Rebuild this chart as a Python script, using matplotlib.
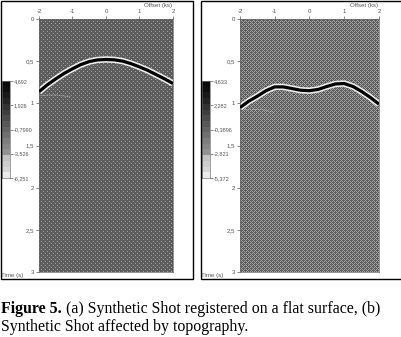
import numpy as np
import matplotlib
matplotlib.use("Agg")
import matplotlib.pyplot as plt
from matplotlib.patches import Rectangle

W, H = 402, 337
offset_ticks = [-2, -1, 0, 1, 2]
offset_labels = ["-2", "-1", "0", "1", "2"]
time_ticks = [0, 0.5, 1, 1.5, 2, 2.5, 3]
time_labels = ["0", "0,5", "1", "1,5", "2", "2,5", "3"]

offset_a = [-2, -1.75, -1.5, -1.25, -1, -0.75, -0.5, -0.25, 0, 0.25, 0.5, 0.75, 1, 1.25, 1.5, 1.75, 2]
time_a = [0.862, 0.78, 0.71, 0.645, 0.59, 0.54, 0.505, 0.485, 0.48, 0.484, 0.50, 0.53, 0.568, 0.61, 0.66, 0.71, 0.765]
offset_b = [-2, -1.75, -1.5, -1.25, -1, -0.75, -0.5, -0.25, 0, 0.25, 0.5, 0.75, 1, 1.25, 1.5, 1.75, 2]
time_b = [1.05, 0.975, 0.915, 0.85, 0.805, 0.805, 0.825, 0.845, 0.85, 0.835, 0.80, 0.77, 0.765, 0.80, 0.86, 0.93, 1.01]

cbar_a_labels = ["4,692", "1,926", "-0,7990", "-3,526", "-6,251"]
cbar_b_labels = ["4,633", "2,282", "-0,3896", "-2,821", "-5,372"]
cbar_levels = [10, 15, 25, 35, 50, 62, 75, 88, 100, 112, 125, 135, 145, 195, 205, 215, 235]
faint_a_x = [-1.95, -1.5, -1.05]
faint_a_t = [0.905, 0.90, 0.925]
faint_b_x = [-1.9, -1.4, -1.0]
faint_b_t = [1.08, 1.07, 1.11]

fig = plt.figure(figsize=(W / 100, H / 100), dpi=100, facecolor="white")
tick_font = dict(fontsize=4.4, color="#555555", family="Liberation Sans")
cbar_font = dict(fontsize=4.0, color="#555555", family="Liberation Sans")


def box(x0, y0, x1, y1):
    return [x0 / W, 1 - y1 / H, (x1 - x0) / W, (y1 - y0) / H]


def texture(h, w, kind):
    yy, xx = np.mgrid[0:h, 0:w]
    img = np.full((h, w), 92.0)
    if kind == "a":
        img[(yy % 4 == 0) & (xx % 4 == 0)] = 165
        img[(yy % 4 == 2) & (xx % 4 == 2)] = 165
    else:
        mesh = (xx + yy) % 2 == 0
        holes = ((xx % 4 == 1) & (yy % 4 == 3)) | ((xx % 4 == 3) & (yy % 4 == 1))
        img[mesh & ~holes] = 165
    return img


def panel(px, offs, times, kind, cb_labels, cb_px, fx, ft):
    x0, y0, x1, y1 = px
    ax = fig.add_axes(box(x0, y0, x1, y1))
    ax.imshow(texture(int(y1 - y0), int(x1 - x0), kind), cmap="gray", vmin=0, vmax=255,
              extent=(-2, 2, 3, 0), aspect="auto", interpolation="nearest", zorder=0)
    ax.plot(fx, ft, color="#c8c8c8", lw=0.6, ls=(0, (1, 1)), zorder=1)
    ax.plot(offs, times, color="#ededed", lw=4.6, solid_capstyle="butt", solid_joinstyle="round", zorder=2)
    ax.plot(offs, times, color="black", lw=2.3, solid_capstyle="butt", solid_joinstyle="round", zorder=3)
    ax.set_xlim(-2, 2)
    ax.set_ylim(3, 0)
    ax.xaxis.tick_top()
    ax.set_xticks(offset_ticks, offset_labels, **tick_font)
    ax.set_yticks(time_ticks, time_labels, **tick_font)
    ax.tick_params(length=2.5, width=0.5, color="#555555", pad=1)
    for s in ax.spines.values():
        s.set_color("#666666")
        s.set_linewidth(0.5)
    fig.text((x1 - 1) / W, 1 - 5.5 / H, "Offset (ks)", ha="right", va="center", **tick_font)

    cx0, cy0, cx1, cy1 = cb_px
    cax = fig.add_axes(box(cx0, cy0, cx1, cy1))
    cax.imshow(np.array(cbar_levels)[:, None], cmap="gray", vmin=0, vmax=255,
               aspect="auto", extent=(0, 1, 0, 1), interpolation="nearest")
    cax.set_xticks([])
    cax.yaxis.tick_right()
    cax.set_yticks(np.linspace(1, 0, 5), cb_labels, **cbar_font)
    cax.tick_params(length=2, width=0.5, color="#555555", pad=0.5)
    for s in cax.spines.values():
        s.set_color("#777777")
        s.set_linewidth(0.5)


panel((39, 19, 173, 272), offset_a, time_a, "a", cbar_a_labels, (2, 81, 10, 178), faint_a_x, faint_a_t)
panel((240, 19, 379, 272), offset_b, time_b, "b", cbar_b_labels, (202, 81, 210, 178), faint_b_x, faint_b_t)

fig.text(1 / W, 1 - 276 / H, "Time (s)", ha="left", va="center", **tick_font)
fig.text(201 / W, 1 - 276 / H, "Time (s)", ha="left", va="center", **tick_font)

for (a, b, c, d) in [(0.5, 0.5, 193, 279), (201, 0.5, 402.5, 279)]:
    fig.add_artist(Rectangle((a / W, 1 - d / H), (c - a) / W, (d - b) / H, transform=fig.transFigure,
                             fill=False, ec="black", lw=1))

cap = dict(fontsize=11.4, family="Liberation Serif", color="black", va="baseline", ha="left")
fig.text(1 / W, 1 - 313 / H, "Figure 5.", fontweight="bold", **cap)
fig.text(65.5 / W, 1 - 313 / H, "(a) Synthetic Shot registered on a flat surface, (b)", **cap)
fig.text(1 / W, 1 - 331 / H, "Synthetic Shot affected by topography.", **cap)

fig.savefig("out.png", dpi=100)
